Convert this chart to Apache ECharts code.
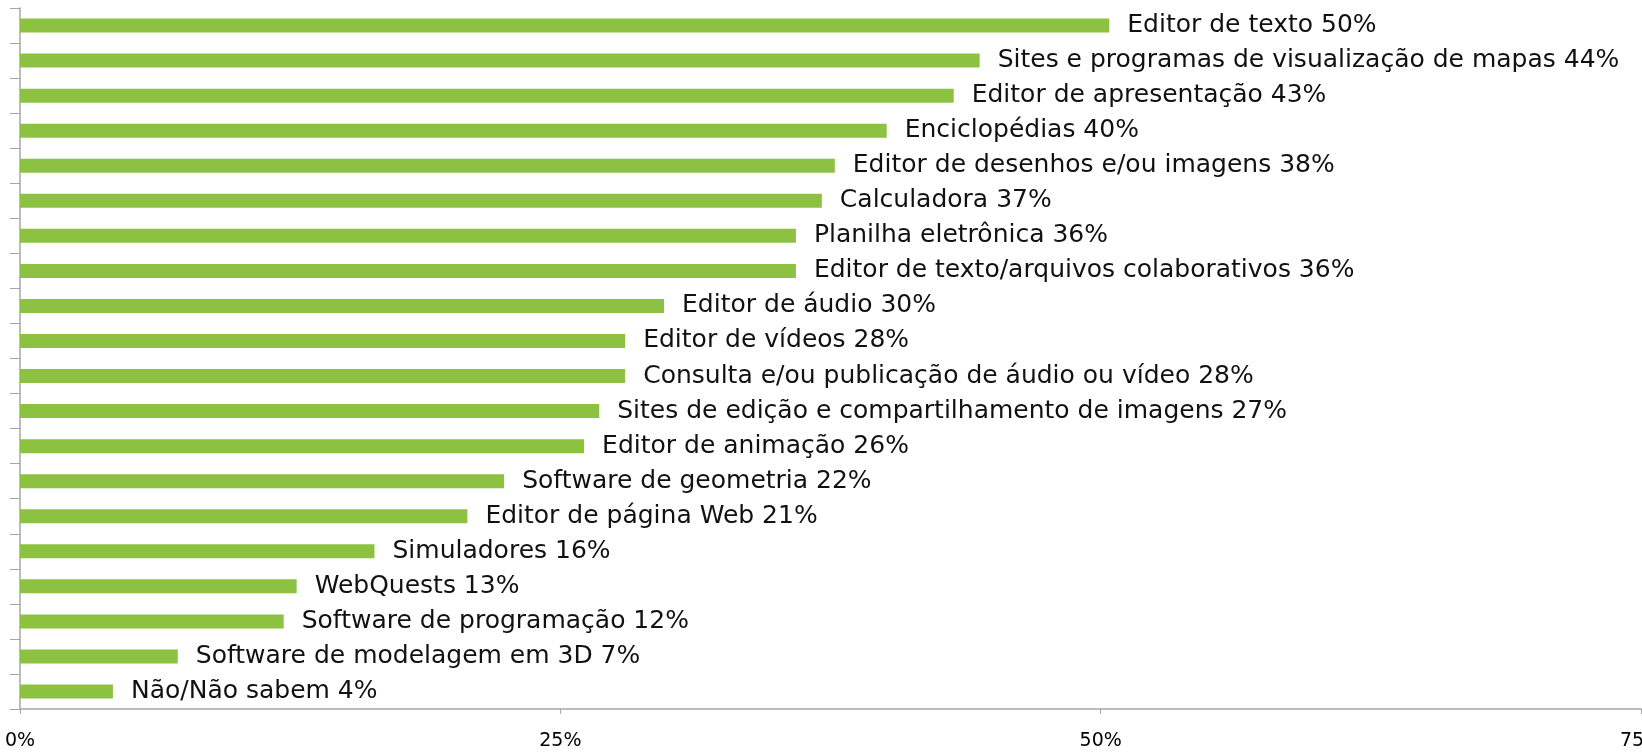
<!DOCTYPE html>
<html>
<head>
<meta charset="utf-8">
<script src="https://cdn.jsdelivr.net/npm/echarts@6/dist/echarts.min.js"></script>
<style>
html,body{margin:0;padding:0;background:#fff;}
#chart{width:1642px;height:752px;}
</style>
</head>
<body>
<div id="chart"></div>
<script>
const categories = [
  "Editor de texto",
  "Sites e programas de visualização de mapas",
  "Editor de apresentação",
  "Enciclopédias",
  "Editor de desenhos e/ou imagens",
  "Calculadora",
  "Planilha eletrônica",
  "Editor de texto/arquivos colaborativos",
  "Editor de áudio",
  "Editor de vídeos",
  "Consulta e/ou publicação de áudio ou vídeo",
  "Sites de edição e compartilhamento de imagens",
  "Editor de animação",
  "Software de geometria",
  "Editor de página Web",
  "Simuladores",
  "WebQuests",
  "Software de programação",
  "Software de modelagem em 3D",
  "Não/Não sabem"
];
const values = [50.4, 44.4, 43.2, 40.1, 37.7, 37.1, 35.9, 35.9, 29.8, 28.0, 28.0, 26.8, 26.1, 22.4, 20.7, 16.4, 12.8, 12.2, 7.3, 4.3];
const xTicks = [0, 25, 50, 75];

const chart = echarts.init(document.getElementById('chart'), null, {renderer: 'canvas'});
chart.setOption({
  animation: false,
  backgroundColor: '#ffffff',
  grid: {left: 20, right: 1, top: 8, bottom: 43, containLabel: false, outerBoundsMode: 'none'},
  xAxis: {
    type: 'value',
    min: xTicks[0],
    max: xTicks[xTicks.length - 1],
    interval: xTicks[1] - xTicks[0],
    splitLine: {show: false},
    axisLine: {show: true, lineStyle: {color: '#a6a6a6', width: 1.5}},
    axisTick: {show: true, length: 5, lineStyle: {color: '#a6a6a6', width: 1}},
    axisLabel: {
      formatter: '{value}%',
      fontFamily: 'DejaVu Sans',
      fontSize: 19,
      color: '#000',
      margin: 23,
      hideOverlap: false
    }
  },
  yAxis: {
    type: 'category',
    data: categories,
    inverse: true,
    axisLine: {show: true, lineStyle: {color: '#a6a6a6', width: 1.5}},
    axisTick: {show: true, length: 10, lineStyle: {color: '#a6a6a6', width: 1}},
    axisLabel: {show: false},
    splitLine: {show: false}
  },
  series: [{
    type: 'bar',
    data: values,
    barWidth: 14,
    itemStyle: {color: '#8cc142'},
    label: {
      show: true,
      position: 'right',
      distance: 18,
      fontFamily: 'DejaVu Sans',
      fontSize: 25,
      color: '#111',
      formatter: function (p) { return p.name + ' ' + Math.round(p.value) + '%'; }
    }
  }]
});
</script>
</body>
</html>
